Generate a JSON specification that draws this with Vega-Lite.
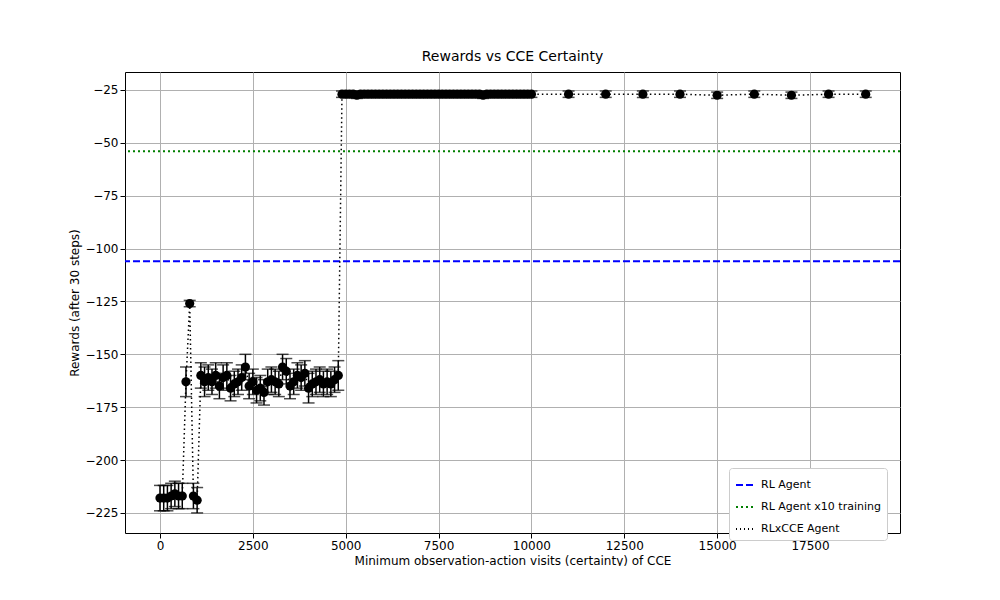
{
  "$schema": "https://vega.github.io/schema/vega-lite/v6.json",
  "width": 775,
  "height": 461,
  "padding": {"left": 68, "top": 50, "right": 0, "bottom": 0},
  "autosize": "pad",
  "title": {"text": "Rewards vs CCE Certainty", "fontSize": 14, "fontWeight": "normal", "font": "DejaVu Sans", "offset": 8},
  "config": {
    "font": "DejaVu Sans",
    "view": {"stroke": "black"},
    "axis": {"grid": true, "gridColor": "#b0b0b0", "domain": false, "tickColor": "black", "labelColor": "black", "labelFontSize": 12, "titleFontSize": 12, "titleFontWeight": "normal", "labelFont": "DejaVu Sans", "titleFont": "DejaVu Sans"}
  },
  "datasets": {
    "cce": [
      {"x": 0, "y": -218, "e": 6}, {"x": 100, "y": -218, "e": 6}, {"x": 200, "y": -218, "e": 6},
      {"x": 300, "y": -217, "e": 6}, {"x": 400, "y": -216, "e": 6}, {"x": 500, "y": -217, "e": 6},
      {"x": 600, "y": -217, "e": 6}, {"x": 700, "y": -163, "e": 7}, {"x": 800, "y": -126, "e": 1.5},
      {"x": 900, "y": -217, "e": 6}, {"x": 1000, "y": -219, "e": 6},
      {"x": 1100, "y": -160, "e": 6}, {"x": 1200, "y": -163, "e": 7}, {"x": 1300, "y": -161, "e": 6},
      {"x": 1400, "y": -163, "e": 6}, {"x": 1500, "y": -160, "e": 6}, {"x": 1600, "y": -165, "e": 6},
      {"x": 1700, "y": -161, "e": 6}, {"x": 1800, "y": -160, "e": 6}, {"x": 1900, "y": -166, "e": 6},
      {"x": 2000, "y": -164, "e": 6}, {"x": 2100, "y": -163, "e": 6}, {"x": 2200, "y": -161, "e": 6},
      {"x": 2300, "y": -156, "e": 6}, {"x": 2400, "y": -165, "e": 6}, {"x": 2500, "y": -163, "e": 6},
      {"x": 2600, "y": -167, "e": 6}, {"x": 2700, "y": -166, "e": 6}, {"x": 2800, "y": -168, "e": 6},
      {"x": 2900, "y": -163, "e": 6}, {"x": 3000, "y": -162, "e": 6}, {"x": 3100, "y": -163, "e": 6},
      {"x": 3200, "y": -164, "e": 6}, {"x": 3300, "y": -156, "e": 6}, {"x": 3400, "y": -158, "e": 6},
      {"x": 3500, "y": -165, "e": 6}, {"x": 3600, "y": -163, "e": 6}, {"x": 3700, "y": -160, "e": 6},
      {"x": 3800, "y": -161, "e": 6}, {"x": 3900, "y": -159, "e": 6}, {"x": 4000, "y": -166, "e": 7},
      {"x": 4100, "y": -164, "e": 6}, {"x": 4200, "y": -163, "e": 6}, {"x": 4300, "y": -162, "e": 6},
      {"x": 4400, "y": -164, "e": 6}, {"x": 4500, "y": -163, "e": 6}, {"x": 4600, "y": -164, "e": 6},
      {"x": 4700, "y": -162, "e": 6}, {"x": 4800, "y": -160, "e": 7},
      {"x": 4900, "y": -27, "e": 1.5}, {"x": 5000, "y": -27, "e": 1.5}, {"x": 5100, "y": -27, "e": 1.5},
      {"x": 5200, "y": -27, "e": 1.5}, {"x": 5300, "y": -27.5, "e": 1.5}, {"x": 5400, "y": -27, "e": 1.5},
      {"x": 5500, "y": -27, "e": 1.5}, {"x": 5600, "y": -27, "e": 1.5}, {"x": 5700, "y": -27, "e": 1.5},
      {"x": 5800, "y": -27, "e": 1.5}, {"x": 5900, "y": -27, "e": 1.5}, {"x": 6000, "y": -27, "e": 1.5},
      {"x": 6100, "y": -27, "e": 1.5}, {"x": 6200, "y": -27, "e": 1.5}, {"x": 6300, "y": -27, "e": 1.5},
      {"x": 6400, "y": -27, "e": 1.5}, {"x": 6500, "y": -27, "e": 1.5}, {"x": 6600, "y": -27, "e": 1.5},
      {"x": 6700, "y": -27, "e": 1.5}, {"x": 6800, "y": -27, "e": 1.5}, {"x": 6900, "y": -27, "e": 1.5},
      {"x": 7000, "y": -27, "e": 1.5}, {"x": 7100, "y": -27, "e": 1.5}, {"x": 7200, "y": -27, "e": 1.5},
      {"x": 7300, "y": -27, "e": 1.5}, {"x": 7400, "y": -27, "e": 1.5}, {"x": 7500, "y": -27, "e": 1.5},
      {"x": 7600, "y": -27, "e": 1.5}, {"x": 7700, "y": -27, "e": 1.5}, {"x": 7800, "y": -27, "e": 1.5},
      {"x": 7900, "y": -27, "e": 1.5}, {"x": 8000, "y": -27, "e": 1.5}, {"x": 8100, "y": -27, "e": 1.5},
      {"x": 8200, "y": -27, "e": 1.5}, {"x": 8300, "y": -27, "e": 1.5}, {"x": 8400, "y": -27, "e": 1.5},
      {"x": 8500, "y": -27, "e": 1.5}, {"x": 8600, "y": -27, "e": 1.5}, {"x": 8700, "y": -27.5, "e": 1.5},
      {"x": 8800, "y": -27, "e": 1.5}, {"x": 8900, "y": -27, "e": 1.5}, {"x": 9000, "y": -27, "e": 1.5},
      {"x": 9100, "y": -27, "e": 1.5}, {"x": 9200, "y": -27, "e": 1.5}, {"x": 9300, "y": -27, "e": 1.5},
      {"x": 9400, "y": -27, "e": 1.5}, {"x": 9500, "y": -27, "e": 1.5}, {"x": 9600, "y": -27, "e": 1.5},
      {"x": 9700, "y": -27, "e": 1.5}, {"x": 9800, "y": -27, "e": 1.5}, {"x": 9900, "y": -27, "e": 1.5},
      {"x": 10000, "y": -27, "e": 1.5}, {"x": 11000, "y": -27, "e": 1.5}, {"x": 12000, "y": -27, "e": 1.5},
      {"x": 13000, "y": -27, "e": 1.5}, {"x": 14000, "y": -27, "e": 1.5}, {"x": 15000, "y": -27.5, "e": 1.5},
      {"x": 16000, "y": -27, "e": 1.5}, {"x": 17000, "y": -27.5, "e": 1.5}, {"x": 18000, "y": -27, "e": 1.5},
      {"x": 19000, "y": -27, "e": 1.5}
    ],
    "refs": [
      {"name": "RL Agent", "y": -106},
      {"name": "RL Agent x10 training", "y": -54}
    ]
  },
  "layer": [
    {
      "data": {"name": "refs"},
      "mark": {"type": "rule", "strokeWidth": 2},
      "encoding": {
        "y": {"field": "y", "type": "quantitative"},
        "color": {"field": "name", "type": "nominal", "title": null,
          "scale": {"domain": ["RL Agent", "RL Agent x10 training", "RLxCCE Agent"], "range": ["#0000ff", "#007f00", "black"]},
          "legend": {"orient": "none", "legendX": 604, "legendY": 396, "strokeColor": "#cccccc", "fillColor": "white", "padding": 6, "cornerRadius": 3, "labelFontSize": 11, "symbolSize": 400, "symbolStrokeWidth": 2, "rowPadding": 6}},
        "strokeDash": {"field": "name", "type": "nominal", "title": null,
          "scale": {"domain": ["RL Agent", "RL Agent x10 training", "RLxCCE Agent"], "range": [[7, 3], [2, 3], [1, 3]]},
          "legend": {"orient": "none", "legendX": 604, "legendY": 396, "strokeColor": "#cccccc", "fillColor": "white", "padding": 6, "cornerRadius": 3, "labelFontSize": 11, "symbolSize": 400, "symbolStrokeWidth": 2, "rowPadding": 6}}
      }
    },
    {
      "data": {"name": "cce"},
      "transform": [
        {"calculate": "datum.y - datum.e", "as": "lo"},
        {"calculate": "datum.y + datum.e", "as": "hi"}
      ],
      "layer": [
        {
          "mark": {"type": "line", "color": "black", "strokeDash": [1.5, 3], "strokeWidth": 1.5},
          "encoding": {
            "x": {"field": "x", "type": "quantitative", "scale": {"domain": [-942, 19923], "nice": false}, "axis": {"values": [0, 2500, 5000, 7500, 10000, 12500, 15000, 17500], "format": "d"}, "title": "Minimum observation-action visits (certainty) of CCE"},
            "y": {"field": "y", "type": "quantitative", "scale": {"domain": [-234.5, -16.5], "nice": false, "zero": false}, "axis": {"values": [-225, -200, -175, -150, -125, -100, -75, -50, -25]}, "title": "Rewards (after 30 steps)"}
          }
        },
        {
          "mark": {"type": "rule", "color": "black", "strokeWidth": 1.5},
          "encoding": {"x": {"field": "x", "type": "quantitative"}, "y": {"field": "lo", "type": "quantitative"}, "y2": {"field": "hi"}}
        },
        {
          "mark": {"type": "tick", "color": "black", "orient": "horizontal", "size": 12, "thickness": 1.5},
          "encoding": {"x": {"field": "x", "type": "quantitative"}, "y": {"field": "lo", "type": "quantitative"}}
        },
        {
          "mark": {"type": "tick", "color": "black", "orient": "horizontal", "size": 12, "thickness": 1.5},
          "encoding": {"x": {"field": "x", "type": "quantitative"}, "y": {"field": "hi", "type": "quantitative"}}
        },
        {
          "mark": {"type": "point", "filled": true, "opacity": 1, "size": 85, "color": "black"},
          "encoding": {"x": {"field": "x", "type": "quantitative"}, "y": {"field": "y", "type": "quantitative"}}
        }
      ]
    }
  ]
}
